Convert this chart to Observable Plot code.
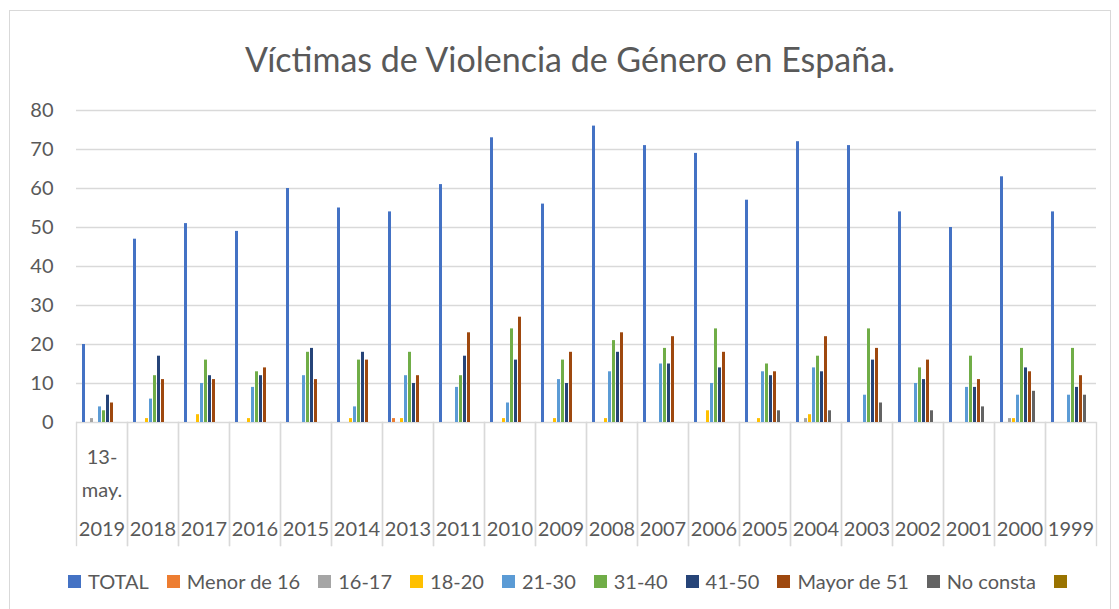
<!DOCTYPE html>
<html>
<head>
<meta charset="utf-8">
<script src="https://cdn.jsdelivr.net/npm/d3@7"></script>
<script src="https://cdn.jsdelivr.net/npm/@observablehq/plot@0.6"></script>
<style>
  html, body { margin: 0; padding: 0; background: #fff; }
  body { width: 1119px; height: 609px; position: relative; overflow: hidden; font-family: Lato, "Open Sans", sans-serif; color: #595959; }
  #frame { position: absolute; left: 9px; top: 10px; width: 1102px; height: 610px; border: 1.5px solid #d9d9d9; box-sizing: border-box; }
  #title { position: absolute; left: 0; width: 1140px; top: 37px; text-align: center; font-size: 34px; line-height: 44px; color: #595959; white-space: nowrap; }
  #chart { position: absolute; left: 0; top: 0; }
  #legend { position: absolute; left: 0; width: 1142px; top: 568px; display: flex; justify-content: center; align-items: center; font-size: 20px; line-height: 26px; color: #595959; white-space: nowrap; }
  .item { display: flex; align-items: center; margin: 0 9px; }
  .sw { width: 13px; height: 13px; margin-right: 7px; }
</style>
</head>
<body>
<div id="frame"></div>
<div id="title">Víctimas de Violencia de Género en España.</div>
<div id="chart"></div>
<div id="legend"></div>
<script>
const years = ["2019","2018","2017","2016","2015","2014","2013","2011","2010","2009","2008","2007","2006","2005","2004","2003","2002","2001","2000","1999"];
const subLabels = ["13-\nmay.","","","","","","","","","","","","","","","","","","",""];
const seriesNames = ["TOTAL","Menor de 16","16-17","18-20","21-30","31-40","41-50","Mayor de 51","No consta",""];
const seriesColors = ["#4472C4","#ED7D31","#A5A5A5","#FFC000","#5B9BD5","#70AD47","#264478","#9E480E","#636363","#997300"];

const total     = [20,47,51,49,60,55,54,61,73,56,76,71,69,57,72,71,54,50,63,54];
const menor16   = [0,0,0,0,0,0,1,0,0,0,0,0,0,0,0,0,0,0,0,0];
const e16_17    = [1,0,0,0,0,0,0,0,0,0,0,0,0,0,1,0,0,0,1,0];
const e18_20    = [0,1,2,1,0,1,1,0,1,1,1,0,3,1,2,0,0,0,1,0];
const e21_30    = [4,6,10,9,12,4,12,9,5,11,13,15,10,13,14,7,10,9,7,7];
const e31_40    = [3,12,16,13,18,16,18,12,24,16,21,19,24,15,17,24,14,17,19,19];
const e41_50    = [7,17,12,12,19,18,10,17,16,10,18,15,14,12,13,16,11,9,14,9];
const mayor51   = [5,11,11,14,11,16,12,23,27,18,23,22,18,13,22,19,16,11,13,12];
const noConsta  = [0,0,0,0,0,0,0,0,0,0,0,0,0,3,3,5,3,4,8,7];
const blank     = [0,0,0,0,0,0,0,0,0,0,0,0,0,0,0,0,0,0,0,0];
const yTicks = [0,10,20,30,40,50,60,70,80];

const seriesValues = [total, menor16, e16_17, e18_20, e21_30, e31_40, e41_50, mayor51, noConsta, blank];

const table = [];
seriesNames.forEach((s, si) => {
  years.forEach((y, yi) => {
    const v = seriesValues[si][yi];
    if (v > 0) table.push({year: y, series: s, value: v});
  });
});
const subTable = years.map((y, i) => ({year: y, label: subLabels[i]})).filter(d => d.label);

const font = "Lato, 'Open Sans', sans-serif";
const grid = "#d9d9d9";

const chart = Plot.plot({
  width: 1119,
  height: 550,
  marginLeft: 73,
  marginRight: 20,
  marginTop: 110,
  marginBottom: 128,
  style: {fontFamily: font, fontSize: "20px", color: "#595959", background: "transparent", overflow: "visible"},
  fx: {domain: years, padding: 0, paddingOuter: 0, label: null},
  x: {domain: seriesNames, paddingInner: 0.25, paddingOuter: 0.9, axis: null},
  y: {domain: [0, 80], axis: null, label: null},
  color: {domain: seriesNames, range: seriesColors},
  marks: [
    Plot.gridY(yTicks, {stroke: grid, strokeOpacity: 1, strokeWidth: 1.4}),
    Plot.frame({anchor: "left", stroke: grid, strokeOpacity: 1, strokeWidth: 1.4, insetTop: 312, insetBottom: -123}),
    Plot.frame({anchor: "right", stroke: grid, strokeOpacity: 1, strokeWidth: 1.4, insetTop: 312, insetBottom: -123}),
    Plot.barY(table, {fx: "year", x: "series", y: "value", fill: "series"}),
    Plot.axisY(yTicks, {anchor: "left", tickSize: 0, tickPadding: 23, fontSize: 20, fill: "#595959", label: null, tickFormat: d => String(d)}),
    Plot.axisFx({anchor: "bottom", tickSize: 0, tickPadding: 99, fontSize: 20, fill: "#595959", label: null}),
    Plot.text(subTable, {fx: "year", text: "label", frameAnchor: "bottom", lineAnchor: "top", dy: 18, lineHeight: 1.65, fontSize: 20, fill: "#595959"})
  ]
});
document.getElementById("chart").appendChild(chart);

const legend = document.getElementById("legend");
seriesNames.forEach((s, i) => {
  const it = document.createElement("div");
  it.className = "item";
  const sw = document.createElement("span");
  sw.className = "sw";
  sw.style.background = seriesColors[i];
  it.appendChild(sw);
  const t = document.createElement("span");
  t.textContent = s;
  it.appendChild(t);
  legend.appendChild(it);
});
</script>
</body>
</html>
